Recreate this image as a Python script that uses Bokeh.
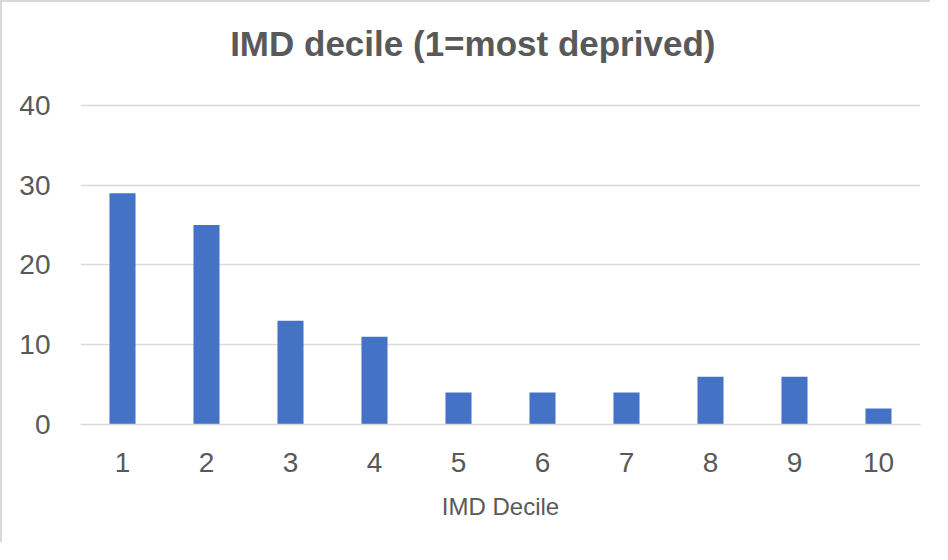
from bokeh.plotting import figure
from bokeh.models import Range1d, FixedTicker, Label
from bokeh.embed import file_html
from bokeh.resources import INLINE

# ---- data ----
deciles = [1, 2, 3, 4, 5, 6, 7, 8, 9, 10]
counts = [29, 25, 13, 11, 4, 4, 4, 6, 6, 2]
y_ticks = [0, 10, 20, 30, 40]
title_text = "IMD decile (1=most deprived)"
x_label = "IMD Decile"

# ---- style ----
TEXT = "#595959"
GRID = "#d9d9d9"
BAR = "#4472C4"
FONT = "Liberation Sans"

# the frame reaches the top of the canvas so that the title (drawn as a
# Label in data units) sits inside it; only 0..40 carries ticks / grid lines
Y_TOP = 52.9

p = figure(width=930, height=542, output_backend="svg", toolbar_location=None,
           x_range=Range1d(0.5, 10.5), y_range=Range1d(0, Y_TOP),
           min_border_left=78, min_border_right=12,
           min_border_top=0, min_border_bottom=120)
p.styles = {"border-left": f"2px solid {GRID}", "border-top": f"2px solid {GRID}"}
p.outline_line_color = None
p.background_fill_color = "white"
p.border_fill_color = "white"

title = Label(x=5.17, y=47.8, text=title_text, text_align="center",
              text_baseline="alphabetic", text_font=FONT, text_font_size="35px",
              text_font_style="bold", text_color=TEXT)
p.add_layout(title)

p.vbar(x=deciles, top=counts, width=0.31, color=BAR, line_color=None)

# axes
p.xaxis.ticker = FixedTicker(ticks=deciles)
p.yaxis.ticker = FixedTicker(ticks=y_ticks)
for ax in (p.xaxis, p.yaxis):
    ax.major_tick_line_color = None
    ax.minor_tick_line_color = None
    ax.major_tick_out = 0
    ax.major_tick_in = 0
    ax.minor_tick_out = 0
    ax.major_label_text_font = FONT
    ax.major_label_text_font_size = "28px"
    ax.major_label_text_color = TEXT
p.yaxis.axis_line_color = None
p.yaxis.major_label_standoff = 30
p.xaxis.axis_line_color = GRID
p.xaxis.axis_line_width = 1.5
p.xaxis.major_label_standoff = 28
p.xaxis.axis_label = x_label
p.xaxis.axis_label_text_font = FONT
p.xaxis.axis_label_text_font_size = "24px"
p.xaxis.axis_label_text_font_style = "normal"
p.xaxis.axis_label_text_color = TEXT
p.xaxis.axis_label_standoff = 18

p.xgrid.grid_line_color = None
p.ygrid.grid_line_color = GRID
p.ygrid.grid_line_width = 1.5

open("out.html", "w").write(file_html(p, INLINE))
